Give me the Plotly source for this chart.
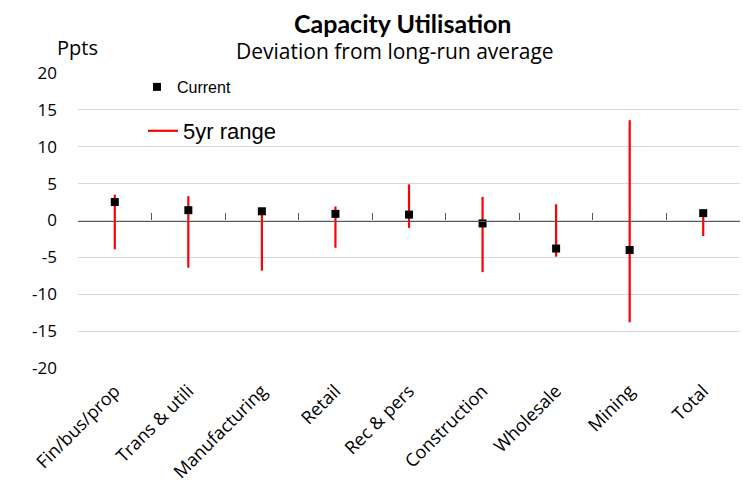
import plotly.graph_objects as go

categories = ["Fin/bus/prop", "Trans & utili", "Manufacturing", "Retail", "Rec & pers",
              "Construction", "Wholesale", "Mining", "Total"]
current = [2.5, 1.4, 1.25, 0.9, 0.8, -0.4, -3.8, -4.0, 1.0]
range_low = [-3.9, -6.4, -6.8, -3.7, -1.0, -7.0, -4.9, -13.8, -2.1]
range_high = [3.5, 3.3, 1.4, 1.9, 4.9, 3.2, 2.2, 13.6, 1.1]
y_ticks = [-20, -15, -10, -5, 0, 5, 10, 15, 20]

W, H = 743, 481
ML, MR, MT, MB = 78, 3, 73, 113
PW, PH = W - ML - MR, H - MT - MB


def px_x(px):
    return (px - ML) / PW


def px_y(py):
    return (H - MB - py) / PH


# build vertical range segments from the data arrays
seg_x, seg_y = [], []
for c, lo, hi in zip(categories, range_low, range_high):
    seg_x += [c, c, None]
    seg_y += [lo, hi, None]

fig = go.Figure()
fig.add_trace(go.Scatter(
    x=seg_x, y=seg_y, mode="lines", name="5yr range",
    line=dict(color="#ff0000", width=2.2),
    xaxis="x", yaxis="y", legend="legend2",
))
fig.add_trace(go.Scatter(
    x=categories, y=current, mode="markers", name="Current",
    marker=dict(symbol="square", size=8, color="#000000"),
    xaxis="x2", yaxis="y", legend="legend",
))

fig.update_layout(
    width=W, height=H,
    margin=dict(l=ML, r=MR, t=MT, b=MB, autoexpand=False),
    paper_bgcolor="white", plot_bgcolor="white",
    font=dict(family="Open Sans", color="#000000"),
    xaxis=dict(
        type="category", categoryorder="array", categoryarray=categories,
        range=[-0.5, len(categories) - 0.5], automargin=False,
        showgrid=False, zeroline=False, showline=False, ticks="",
        ticklabelstandoff=8,
        tickangle=-45, tickfont=dict(family="Open Sans", size=18, color="#000000"),
    ),
    xaxis2=dict(
        type="category", categoryorder="array", categoryarray=categories,
        range=[-0.5, len(categories) - 0.5], automargin=False,
        overlaying="x", anchor="free", position=0.5, side="bottom",
        showgrid=False, zeroline=False, showticklabels=False,
        showline=True, linecolor="#595959", linewidth=1.3,
        ticks="inside", tickson="boundaries", ticklen=7, tickcolor="#595959", tickwidth=1.3,
    ),
    yaxis=dict(
        range=[-20, 20], tickvals=y_ticks, ticktext=[str(v) for v in y_ticks],
        showgrid=True, gridcolor="#d9d9d9", gridwidth=1, zeroline=False, automargin=False,
        showline=False, ticks="", ticklabelstandoff=20,
        tickfont=dict(family="Open Sans", size=17, color="#000000"),
    ),
    legend=dict(
        x=px_x(137), y=px_y(87), xanchor="left", yanchor="middle",
        bgcolor="rgba(0,0,0,0)", font=dict(family="Liberation Sans", size=16, color="#000000"),
    ),
    legend2=dict(
        x=px_x(143), y=px_y(131), xanchor="left", yanchor="middle",
        bgcolor="rgba(0,0,0,0)", font=dict(family="Liberation Sans", size=22, color="#000000"),
    ),
    showlegend=True,
    annotations=[
        dict(text="<b>Capacity Utilisation</b>", x=px_x(402), y=px_y(23),
             xref="paper", yref="paper", xanchor="center", yanchor="middle",
             showarrow=False, font=dict(family="Lato", size=25, color="#000000")),
        dict(text="Deviation from long-run average", x=px_x(395), y=px_y(51),
             xref="paper", yref="paper", xanchor="center", yanchor="middle",
             showarrow=False, font=dict(family="Open Sans", size=21, color="#000000")),
        dict(text="Ppts", x=px_x(55), y=px_y(47),
             xref="paper", yref="paper", xanchor="left", yanchor="middle",
             showarrow=False, font=dict(family="Open Sans", size=20, color="#000000")),
    ],
)

fig.write_html("out.html", config={"displayModeBar": False},
               post_script="document.body.style.margin='0';")
